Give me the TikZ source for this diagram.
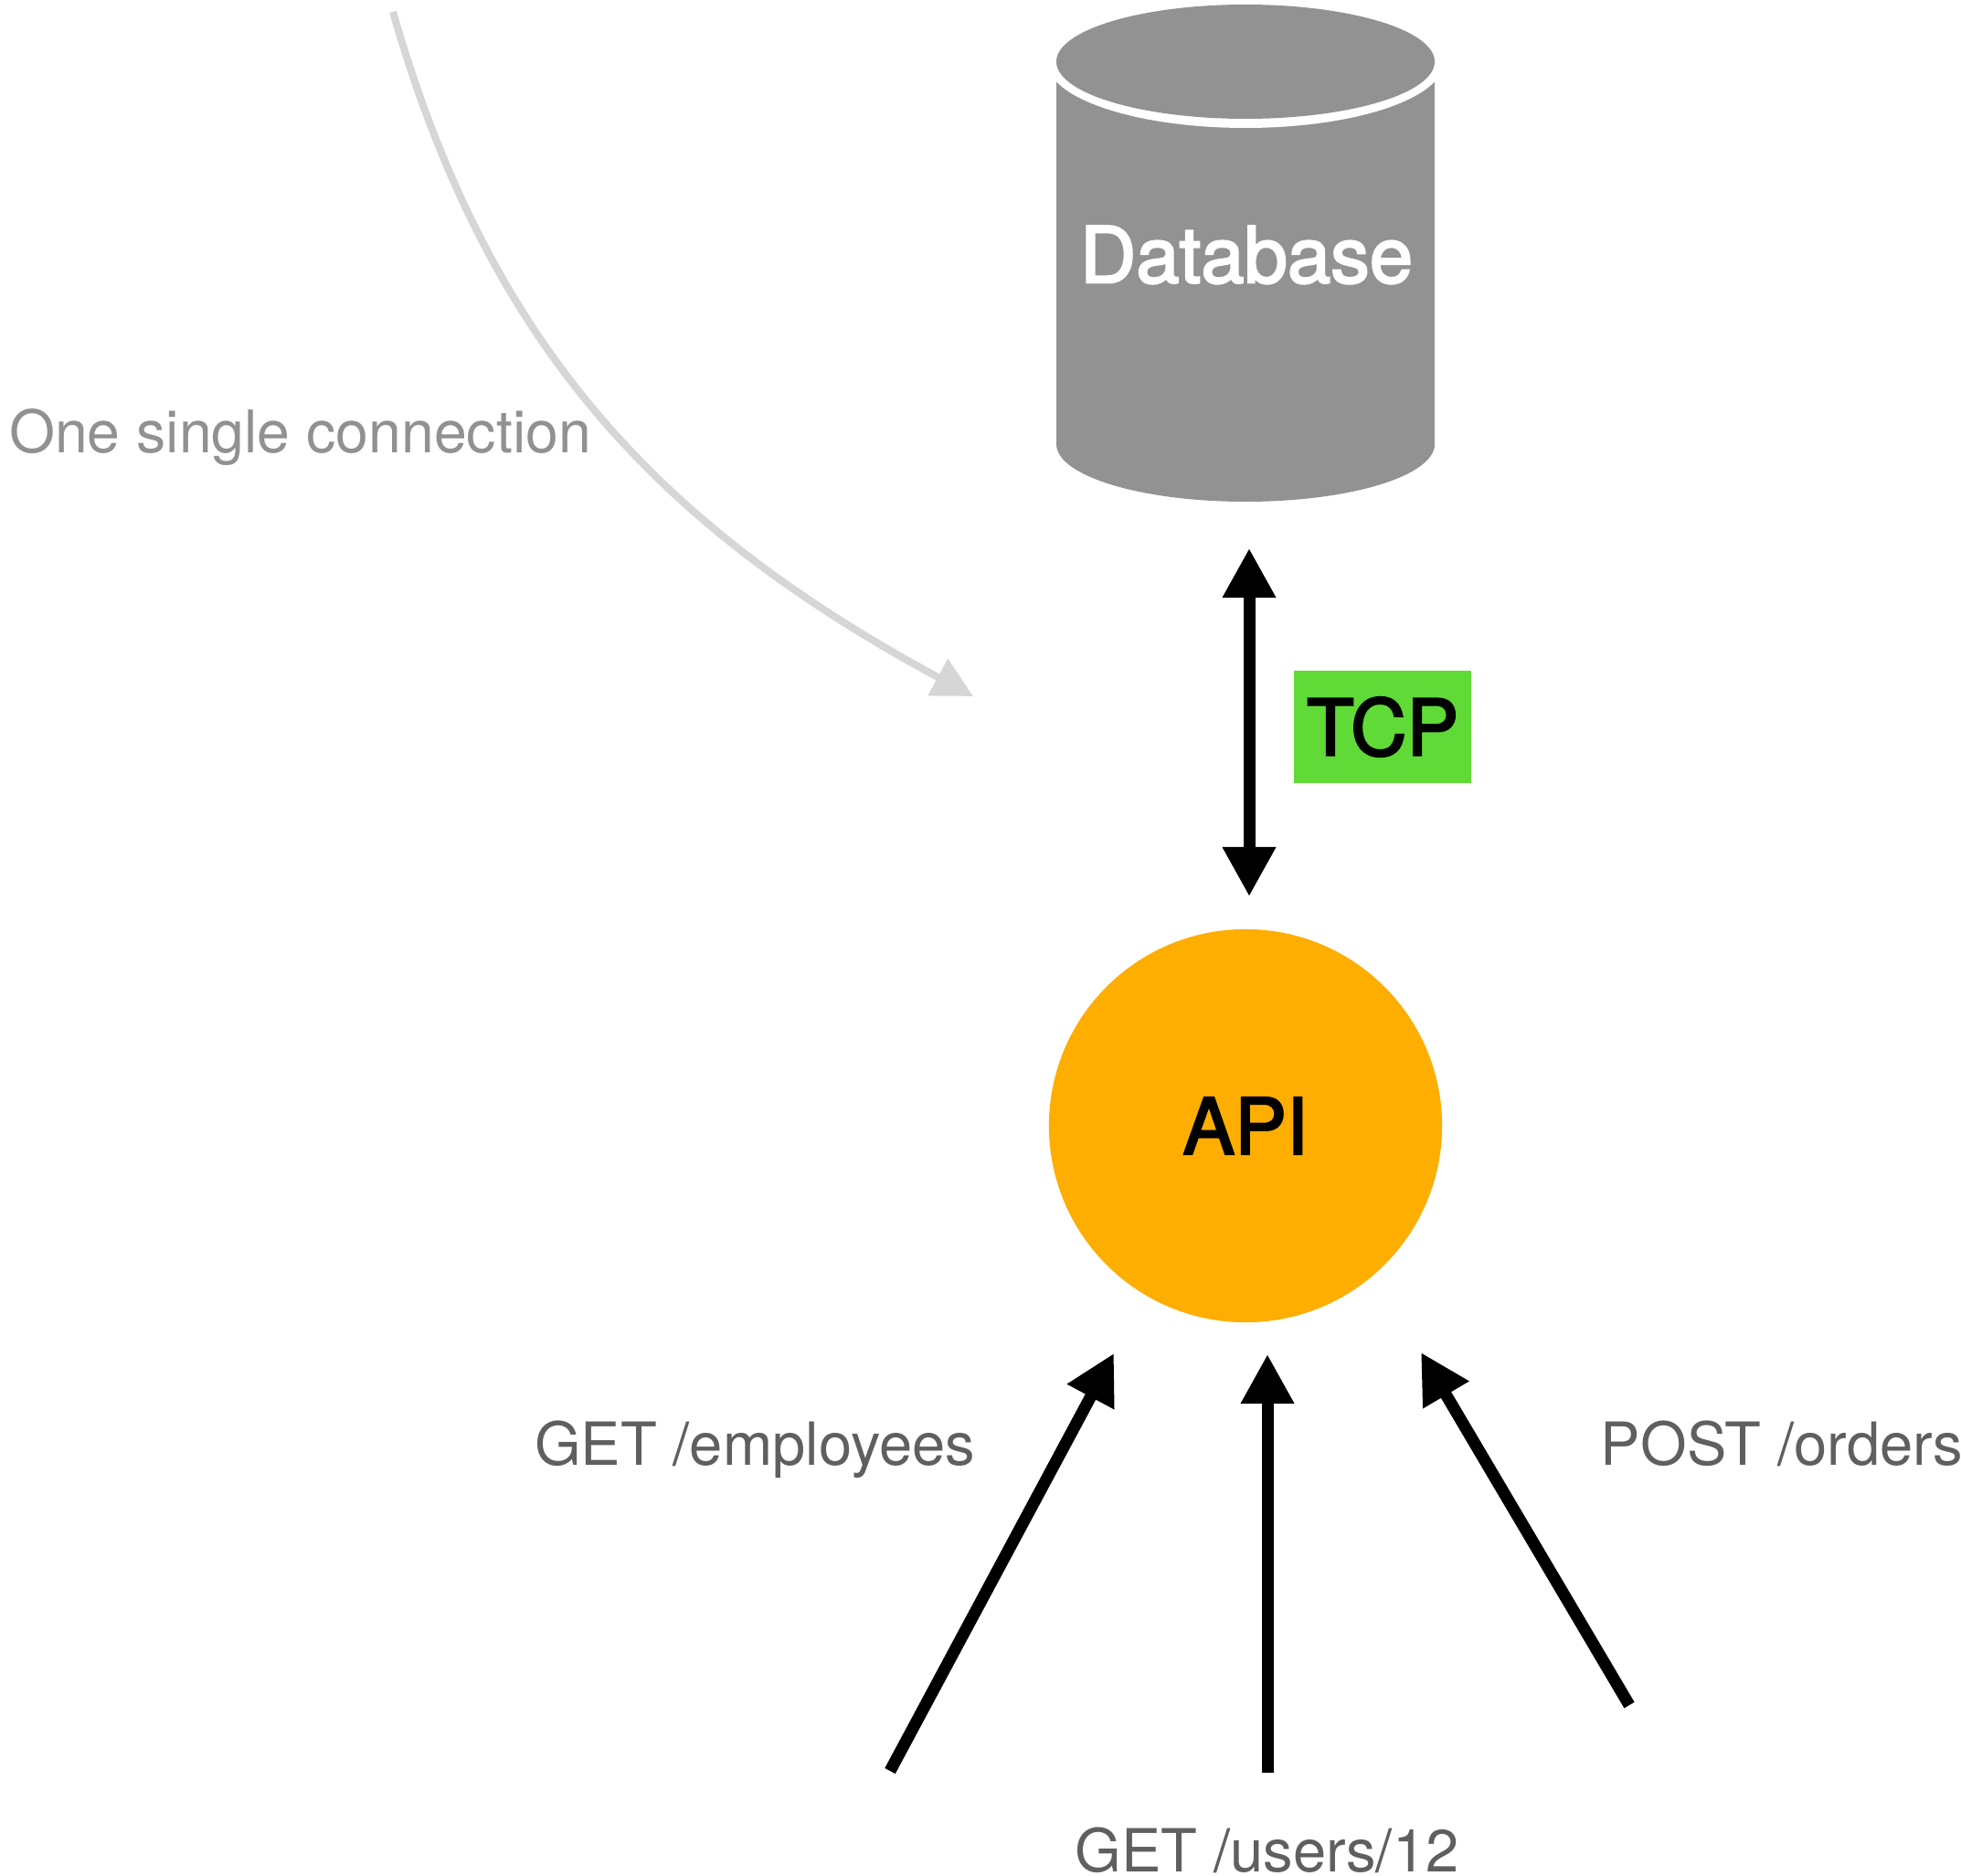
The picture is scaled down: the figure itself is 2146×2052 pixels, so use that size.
\documentclass[tikz,border=0pt]{standalone}
\usepackage{fontspec}
\setmainfont{TeX Gyre Heros}
\newfontfamily\medfont[FakeBold=2.6]{TeX Gyre Heros}
\usetikzlibrary{arrows.meta}
\definecolor{dbgray}{HTML}{929292}
\definecolor{tcpgreen}{HTML}{5FDA37}
\definecolor{apiorange}{HTML}{FDAE00}
\definecolor{lblgray}{HTML}{5F5F5F}
\definecolor{notegray}{HTML}{919191}
\definecolor{curvegray}{HTML}{D6D6D6}
\begin{document}
\begin{tikzpicture}[x=0.01cm,y=-0.01cm,
  bigtext/.style={font=\medfont\fontsize{24.2}{29}\selectfont},
  lbltext/.style={font=\fontsize{18.5}{22}\selectfont, text=lblgray, anchor=base, inner sep=0pt},
  flow/.style={line width=0.13cm, -{Triangle[length=0.54cm,width=0.55cm]}},
  biflow/.style={line width=0.13cm, {Triangle[length=0.54cm,width=0.55cm]}-{Triangle[length=0.54cm,width=0.55cm]}},
  noteflow/.style={draw=curvegray, line width=0.08cm, -{Triangle[length=0.44cm,width=0.44cm]}}
]
\fill[white] (0,0) rectangle (2146,2052);
\useasboundingbox (0,0) rectangle (2146,2052);

% database cylinder
\fill[dbgray] (1156,67.5) rectangle (1570,486);
\fill[dbgray] (1363,486) ellipse[x radius=207, y radius=63];
\fill[white] (1363,67.5) ellipse[x radius=217, y radius=72.5];
\fill[dbgray] (1363,67.5) ellipse[x radius=207, y radius=62.5];
\node[bigtext, text=white] (db) at (1364,279) {Database};

% API
\node[circle, fill=apiorange, minimum size=4.3cm, inner sep=0pt, bigtext] (api) at (1363,1232) {API};

% TCP label
\node[rectangle, fill=tcpgreen, minimum width=1.94cm, minimum height=1.23cm, inner sep=0pt, bigtext] (tcp) at (1513,795.5) {TCP};

% coordinates
\coordinate (tcpTop) at (1367,600);
\coordinate (tcpBot) at (1367,981);
\coordinate (aL) at (974,1938);
\coordinate (aLt) at (1219,1481);
\coordinate (aM) at (1387,1940);
\coordinate (aMt) at (1387,1482);
\coordinate (aR) at (1783,1866);
\coordinate (aRt) at (1555,1480);
\coordinate (cS) at (430,13);
\coordinate (cE) at (1065,762);

\draw[biflow] (tcpTop) -- (tcpBot);
\draw[flow] (aL) -- (aLt);
\draw[flow] (aM) -- (aMt);
\draw[flow] (aR) -- (aRt);
\draw[noteflow] (cS) .. controls (533.5,374) and (717,574) .. (cE);

% labels
\node[lbltext] (lemp) at (826,1603) {GET /employees};
\node[lbltext] (lord) at (1950,1603) {POST /orders};
\node[lbltext] (lusr) at (1386.5,2048) {GET /users/12};
\node[lbltext, text=notegray, font=\fontsize{18.3}{22}\selectfont] (lnote) at (328.5,495.5) {One single connection};
\end{tikzpicture}
\end{document}
